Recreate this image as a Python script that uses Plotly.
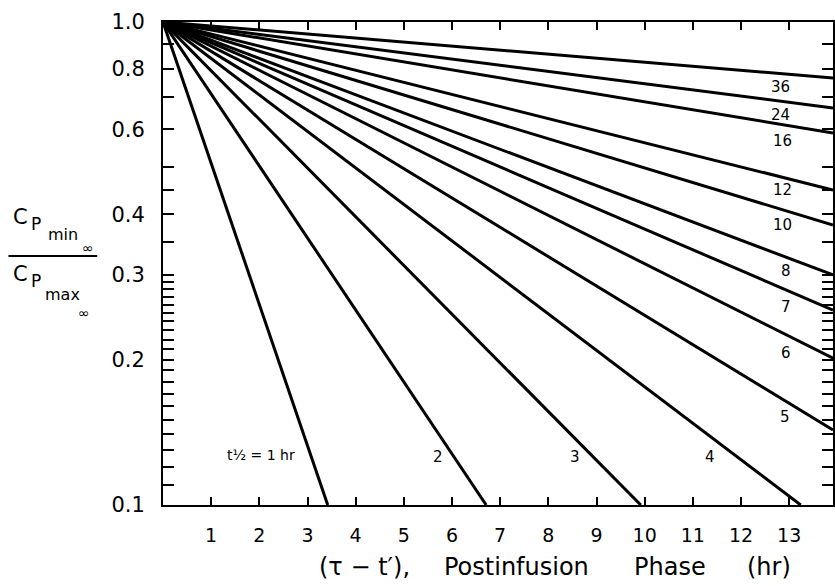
import math
import plotly.graph_objects as go

# Half-life of each curve (hr) and the point where each line leaves the plot
half_lives = ["1", "2", "3", "4", "5", "6", "7", "8", "10", "12", "16", "24", "36"]
end_x = [3.42, 6.71, 9.92, 13.24, 13.91, 13.91, 13.91, 13.91, 13.91, 13.91, 13.91, 13.91, 13.91]
end_y = [0.10, 0.10, 0.10, 0.10, 0.143, 0.2013, 0.2533, 0.2995, 0.380, 0.449, 0.589, 0.664, 0.766]
start_x = 0.0
start_y = 1.0

# Curve labels (text, x, y)
label_text = ["t½ = 1 hr", "2", "3", "4", "5", "6", "7", "8", "10", "12", "16", "24", "36"]
label_x = [2.04, 5.70, 8.56, 11.36, 12.91, 12.93, 12.93, 12.93, 12.86, 12.86, 12.86, 12.81, 12.82]
label_y = [0.127, 0.126, 0.126, 0.126, 0.1524, 0.206, 0.2566, 0.3055, 0.380, 0.449, 0.568, 0.642, 0.733]

x_ticks = list(range(1, 14))
y_tick_vals = [round(0.10 + 0.01 * i, 2) for i in range(21)] + [0.35, 0.4, 0.45, 0.5, 0.6, 0.7, 0.8, 0.9, 1.0]
y_labeled = {1.0: "1.0", 0.8: "0.8", 0.6: "0.6", 0.4: "0.4", 0.3: "0.3", 0.2: "0.2", 0.1: "0.1"}
y_tick_text = [y_labeled.get(v, "") for v in y_tick_vals]

FONT = "DejaVu Sans"
W, H = 835, 586
L, R, T, B = 163, 0, 22, 81
PW, PH = W - L - R, H - T - B


def px(x):
    return (x - L) / PW


def py(y):
    return (H - B - y) / PH


fig = go.Figure()
for hl, xe, ye in zip(half_lives, end_x, end_y):
    fig.add_trace(go.Scatter(x=[start_x, xe], y=[start_y, ye], mode="lines",
                             line=dict(color="black", width=3), name=hl,
                             showlegend=False, hoverinfo="skip"))

for i, (t, x, y) in enumerate(zip(label_text, label_x, label_y)):
    fig.add_annotation(x=x, y=math.log10(y), xref="x", yref="y", text=t, showarrow=False,
                       font=dict(family=FONT, size=14 if i == 0 else 15, color="black"))

# Y-axis title built as a stacked fraction
ytitle = [
    ("C", 20, 217, 21), ("P", 36, 224, 17), ("min", 63, 234, 16), ("∞", 88, 248, 14),
    ("C", 20, 274, 21), ("P", 36, 281, 17), ("max", 62, 294, 16), ("∞", 84, 313, 14),
]
for t, x, y, s in ytitle:
    fig.add_annotation(xref="paper", yref="paper", x=px(x), y=py(y), text=t,
                       showarrow=False, xanchor="center", yanchor="middle",
                       font=dict(family=FONT, size=s, color="black"))
fig.add_shape(type="line", xref="paper", yref="paper", x0=px(8), x1=px(97),
              y0=py(256), y1=py(256), line=dict(color="black", width=2))

# X-axis title
xtitle = [("(τ − t′),", 317), ("Postinfusion", 443), ("Phase", 633), ("(hr)", 747)]
for t, x in xtitle:
    fig.add_annotation(xref="paper", yref="paper", x=px(x), y=py(567), text=t,
                       showarrow=False, xanchor="left", yanchor="middle",
                       font=dict(family=FONT, size=24, color="black"))

fig.update_xaxes(range=[0, 13.91], tickvals=x_ticks, ticktext=[str(v) for v in x_ticks],
                 ticks="inside", ticklen=8, tickwidth=1.5, tickcolor="black",
                 showline=True, linewidth=2, linecolor="black", mirror="ticks",
                 showgrid=False, zeroline=False, ticklabelstandoff=12,
                 tickfont=dict(family=FONT, size=19, color="black"))
fig.update_yaxes(type="log", range=[-1, 0], tickvals=y_tick_vals, ticktext=y_tick_text,
                 ticks="inside", ticklen=11, tickwidth=1.5, tickcolor="black",
                 showline=True, linewidth=2, linecolor="black", mirror="ticks",
                 showgrid=False, zeroline=False, ticklabelstandoff=12,
                 tickfont=dict(family=FONT, size=21, color="black"))

fig.update_layout(width=W, height=H, margin=dict(l=L, r=R, t=T, b=B),
                  plot_bgcolor="white", paper_bgcolor="white", showlegend=False)

fig.write_html("out.html")
